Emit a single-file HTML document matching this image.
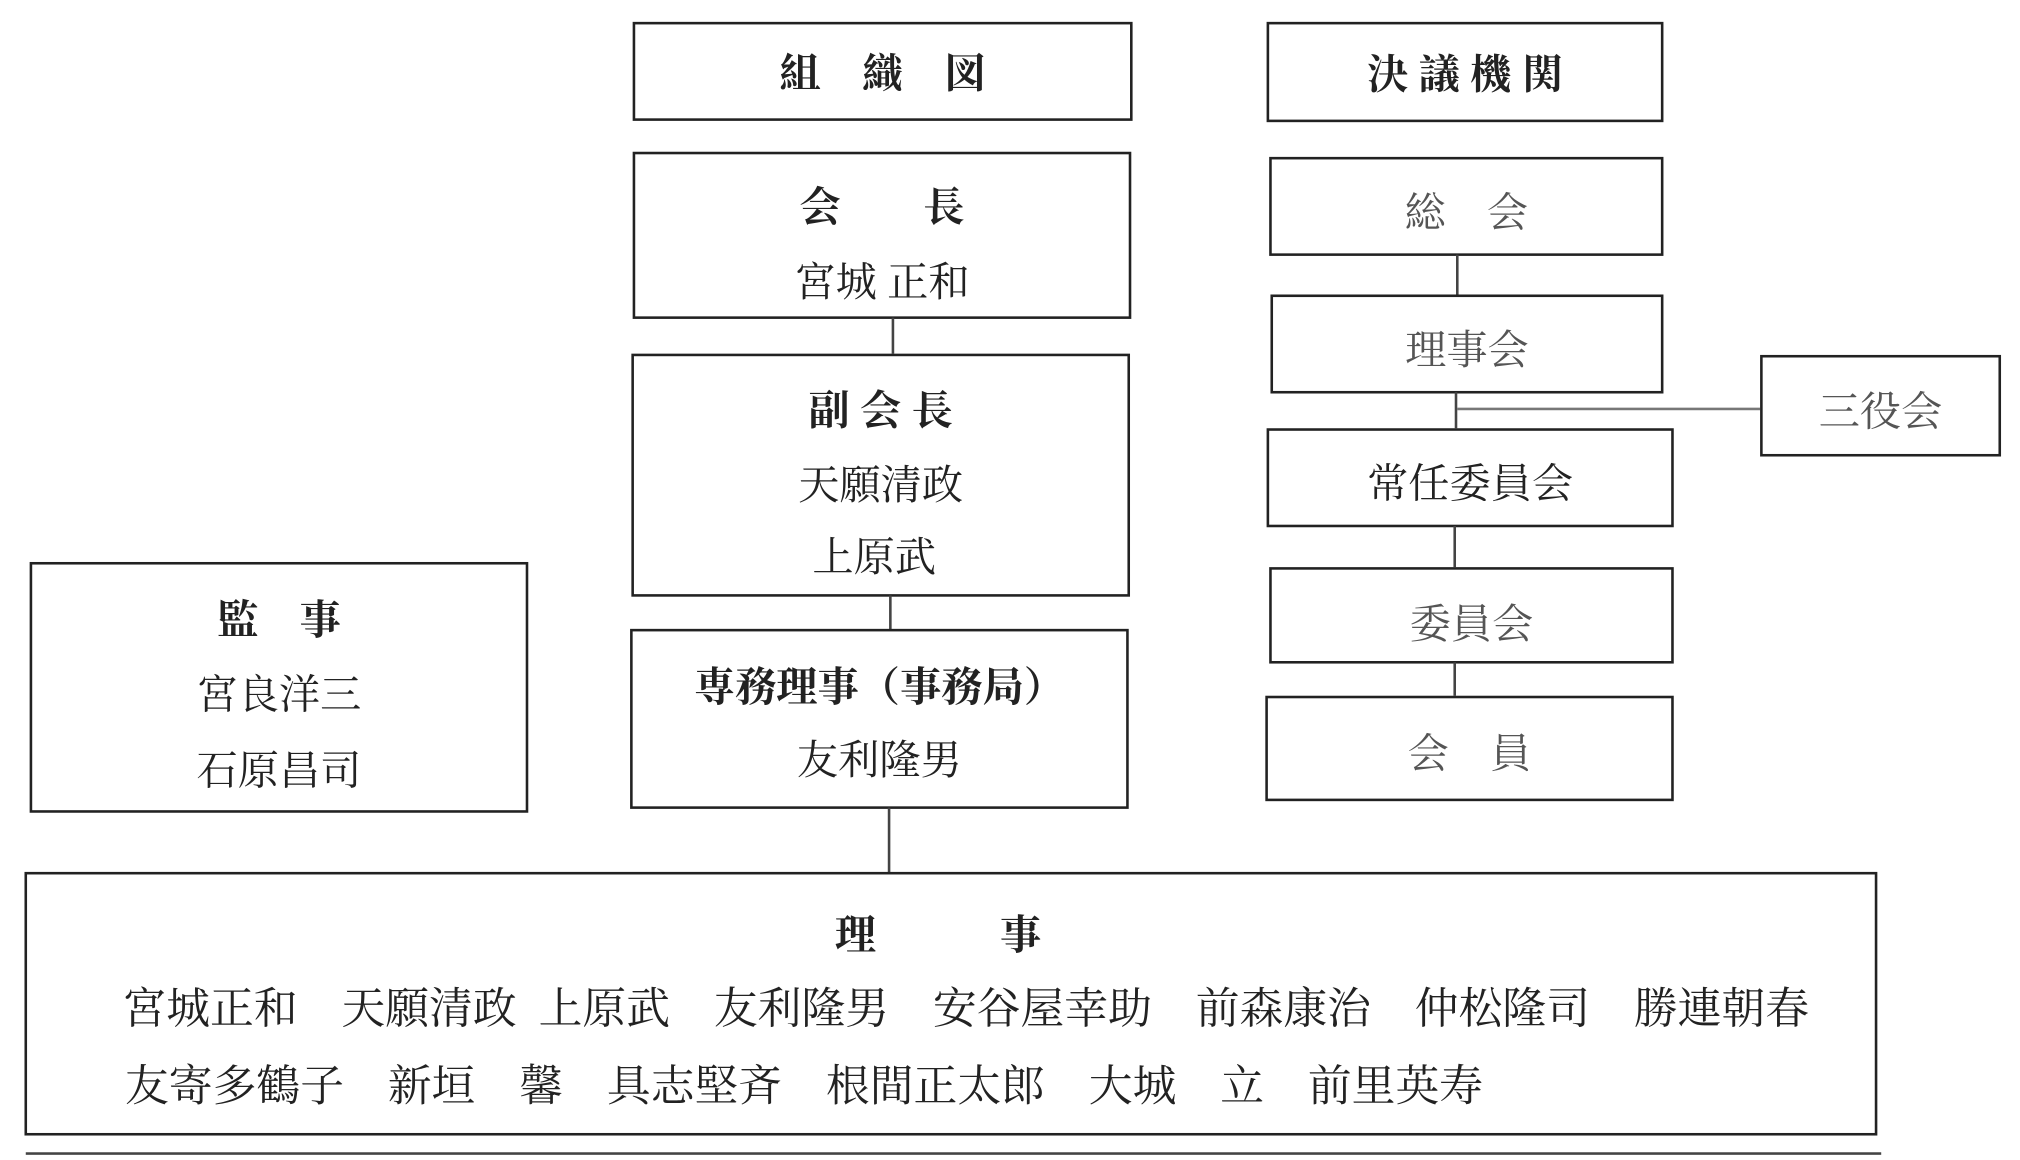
<!DOCTYPE html>
<html><head><meta charset="utf-8"><style>
html,body{margin:0;padding:0;background:#fff;width:2020px;height:1160px;overflow:hidden}
#w{position:absolute;left:0;top:0;width:1560px;height:900px;transform:scale(1.2885,1.2860);transform-origin:0 0;font-family:"Liberation Serif","Noto Serif CJK SC","Noto Sans CJK JP",serif;color:#222}
.b{position:absolute;border:2px solid #222;box-sizing:border-box}
.t{position:absolute;left:0;right:0;text-align:center;font-size:32px;line-height:36px;white-space:pre}
.g{color:#555}
.l{position:absolute;background:#444}
.bold{font-weight:bold}
.n{position:absolute;font-size:34px;line-height:36px;white-space:pre}
</style></head><body><div id="w">
<div class="b" style="left:491px;top:17px;width:388px;height:77px"><div class="t bold" style="top:20px">組　織　図</div></div>
<div class="b" style="left:983px;top:17px;width:308px;height:78px"><div class="t bold" style="top:21px">決 議 機 関</div></div>

<div class="b" style="left:491px;top:118px;width:387px;height:130px"><div class="t bold" style="top:23px">会　　長</div><div class="t" style="top:81px">宮城 正和</div></div>
<div class="l" style="left:692px;top:247px;width:2px;height:28px"></div>
<div class="b" style="left:490px;top:275px;width:387px;height:189px"><div class="t bold" style="top:24px">副 会 長</div><div class="t" style="top:82px">天願清政</div><div class="t" style="top:138px;left:-10px">上原武</div></div>
<div class="l" style="left:690px;top:463px;width:2px;height:27px"></div>
<div class="b" style="left:489px;top:489px;width:387px;height:140px"><div class="t bold" style="top:25px">専務理事（事務局）</div><div class="t" style="top:82px">友利隆男</div></div>
<div class="l" style="left:689px;top:628px;width:2px;height:51px"></div>

<div class="b" style="left:23px;top:437px;width:387px;height:195px"><div class="t bold" style="top:25px">監　事</div><div class="t" style="top:83px">宮良洋三</div><div class="t" style="top:142px">石原昌司</div></div>

<div class="b" style="left:19px;top:678px;width:1438px;height:205px">
<div class="t bold" style="top:29px;left:-20px">理　　　事</div>
<div class="n" style="left:74px;top:88px">宮城正和　天願清政  上原武　友利隆男　安谷屋幸助　前森康治　仲松隆司　勝連朝春</div>
<div class="n" style="left:76px;top:148px">友寄多鶴子　新垣　馨　具志堅斉　根間正太郎　大城　立　前里英寿</div>
</div>
<div class="l" style="left:20px;top:896px;width:1440px;height:2px"></div>

<div class="b" style="left:985px;top:122px;width:306px;height:77px"><div class="t g" style="top:23px">総　会</div></div>
<div class="l" style="left:1130px;top:198px;width:2px;height:31px"></div>
<div class="b" style="left:986px;top:229px;width:305px;height:77px"><div class="t g" style="top:23px">理事会</div></div>
<div class="l" style="left:1129px;top:305px;width:2px;height:28px"></div>
<div class="l" style="left:1131px;top:317px;width:235px;height:2px;background:#777"></div>
<div class="b" style="left:1366px;top:276px;width:187px;height:79px"><div class="t g" style="top:24px">三役会</div></div>
<div class="b" style="left:983px;top:333px;width:316px;height:77px"><div class="t" style="top:23px">常任委員会</div></div>
<div class="l" style="left:1128px;top:409px;width:2px;height:32px"></div>
<div class="b" style="left:985px;top:441px;width:314px;height:75px"><div class="t g" style="top:24px">委員会</div></div>
<div class="l" style="left:1128px;top:515px;width:2px;height:26px"></div>
<div class="b" style="left:982px;top:541px;width:317px;height:82px"><div class="t g" style="top:25px">会　員</div></div>
</div></body></html>
